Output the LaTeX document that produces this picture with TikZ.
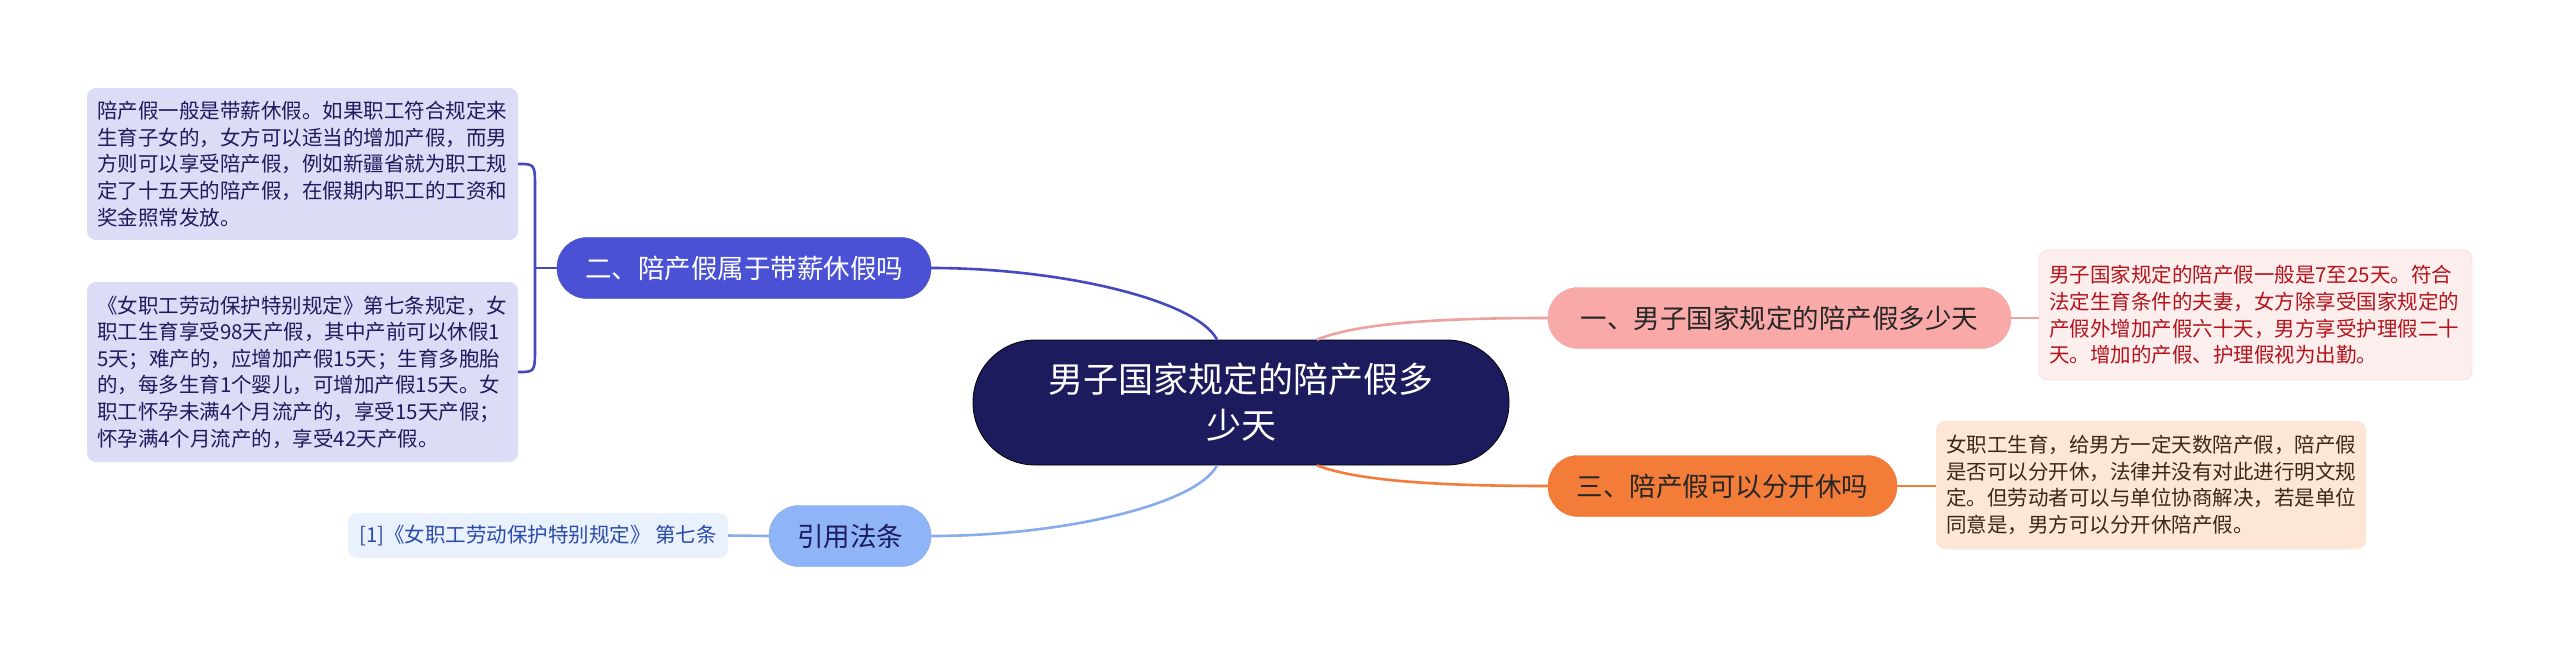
\documentclass[tikz,border=0pt]{standalone}
\usepackage{fontspec}
\newfontfamily\cjk{Noto Sans CJK SC}
\definecolor{navyc}{HTML}{1C1B5E}
\definecolor{violetc}{HTML}{4B51D5}
\definecolor{lavenderc}{HTML}{DCDCF6}
\definecolor{skyc}{HTML}{8FB4F7}
\definecolor{icec}{HTML}{E9F1FD}
\definecolor{citec}{HTML}{2C4AA8}
\definecolor{rosec}{HTML}{F9AAA8}
\definecolor{blushc}{HTML}{FDEEEE}
\definecolor{winec}{HTML}{B3141C}
\definecolor{orangec}{HTML}{F47C39}
\definecolor{peachc}{HTML}{FDE6D6}
\definecolor{cocoac}{HTML}{3E2616}
\tikzset{
  hub/.style={fill=navyc, draw=black, line width=0.8pt, rounded corners=62pt, minimum width=536pt, minimum height=125pt, align=center, text=white, font={\cjk\fontsize{35pt}{46pt}\selectfont}},
  topic/.style={rounded corners=30pt, minimum height=61pt, font={\cjk\fontsize{26.5pt}{32pt}\selectfont}},
  leaf/.style={rounded corners=9pt, align=left, inner xsep=10pt, font={\cjk\fontsize{20.5pt}{26.6pt}\selectfont}},
  link/.style={line width=2.6pt}
}
\begin{document}
\begin{tikzpicture}[x=1pt,y=-1pt]
  \useasboundingbox[fill=white] (0,0) rectangle (2560,655);
  \node[hub] (ctr) at (1241,402.5) {男子国家规定的陪产假多\\少天};
  \node[topic, fill=violetc, draw=violetc!85!black, text=white, minimum width=374pt] (bB) at (744,268) {二、陪产假属于带薪休假吗};
  \node[topic, fill=skyc, draw=skyc!90!black, text=navyc, minimum width=162pt] (bC) at (850,536) {引用法条};
  \node[topic, fill=rosec, draw=rosec!95!black, text=black!85, minimum width=463pt] (bA) at (1779.5,318) {一、男子国家规定的陪产假多少天};
  \node[topic, fill=orangec, draw=orangec!95!black, text=black!85, minimum width=349pt] (bD) at (1722.5,486) {三、陪产假可以分开休吗};
  \node[leaf, fill=lavenderc, text=navyc, text width=411pt, minimum height=152pt] (ldA) at (302.5,164) {陪产假一般是带薪休假。如果职工符合规定来\\生育子女的，女方可以适当的增加产假，而男\\方则可以享受陪产假，例如新疆省就为职工规\\定了十五天的陪产假，在假期内职工的工资和\\奖金照常发放。};
  \node[leaf, fill=lavenderc, text=navyc, text width=411pt, minimum height=180pt] (ldB) at (302.5,372) {《女职工劳动保护特别规定》第七条规定，女\\职工生育享受98天产假，其中产前可以休假1\\5天；难产的，应增加产假15天；生育多胞胎\\的，每多生育1个婴儿，可增加产假15天。女\\职工怀孕未满4个月流产的，享受15天产假；\\怀孕满4个月流产的，享受42天产假。};
  \node[leaf, fill=icec, text=citec, minimum width=380pt, minimum height=45pt] (lc) at (538,535.5) {[1]《女职工劳动保护特别规定》 第七条};
  \node[leaf, fill=blushc, draw=rosec!40, line width=0.8pt, text=winec, text width=413pt, minimum height=130pt] (lrA) at (2255.5,315) {男子国家规定的陪产假一般是7至25天。符合\\法定生育条件的夫妻，女方除享受国家规定的\\产假外增加产假六十天，男方享受护理假二十\\天。增加的产假、护理假视为出勤。};
  \node[leaf, fill=peachc, text=cocoac, text width=410pt, minimum height=128pt] (lrB) at (2151,485) {女职工生育，给男方一定天数陪产假，陪产假\\是否可以分开休，法律并没有对此进行明文规\\定。但劳动者可以与单位协商解决，若是单位\\同意是，男方可以分开休陪产假。};
  \coordinate (fork) at (535,268);
  \draw[link, draw=violetc!90!black] ([xshift=-24pt]ctr.north) .. controls ([xshift=-45pt,yshift=40pt]ctr.north) and (1060,268) .. (bB.east);
  \draw[link, draw=violetc!90!black] (bB.west) -- (fork);
  \draw[link, draw=violetc!90!black] (ldA.east) .. controls (fork |- ldA.east) .. ([yshift=-25pt]fork |- ldA.east) -- ([yshift=25pt]fork |- ldB.east) .. controls (fork |- ldB.east) .. (ldB.east);
  \draw[link, draw=skyc!95!black] ([xshift=-24pt]ctr.south) .. controls ([xshift=-45pt,yshift=-40pt]ctr.south) and (1060,536) .. (bC.east);
  \draw[link, draw=skyc!95!black] (bC.west) -- (lc.east);
  \draw[link, draw=rosec!95!black] ([xshift=76pt]ctr.north) .. controls (1360,322) and (1450,318) .. (bA.west);
  \draw[link, draw=rosec!95!black] (bA.east) -- (bA.east -| lrA.west);
  \draw[link, draw=orangec] ([xshift=76pt]ctr.south) .. controls (1360,482) and (1450,486) .. (bD.west);
  \draw[link, draw=orangec] (bD.east) -- (bD.east -| lrB.west);
\end{tikzpicture}
\end{document}
